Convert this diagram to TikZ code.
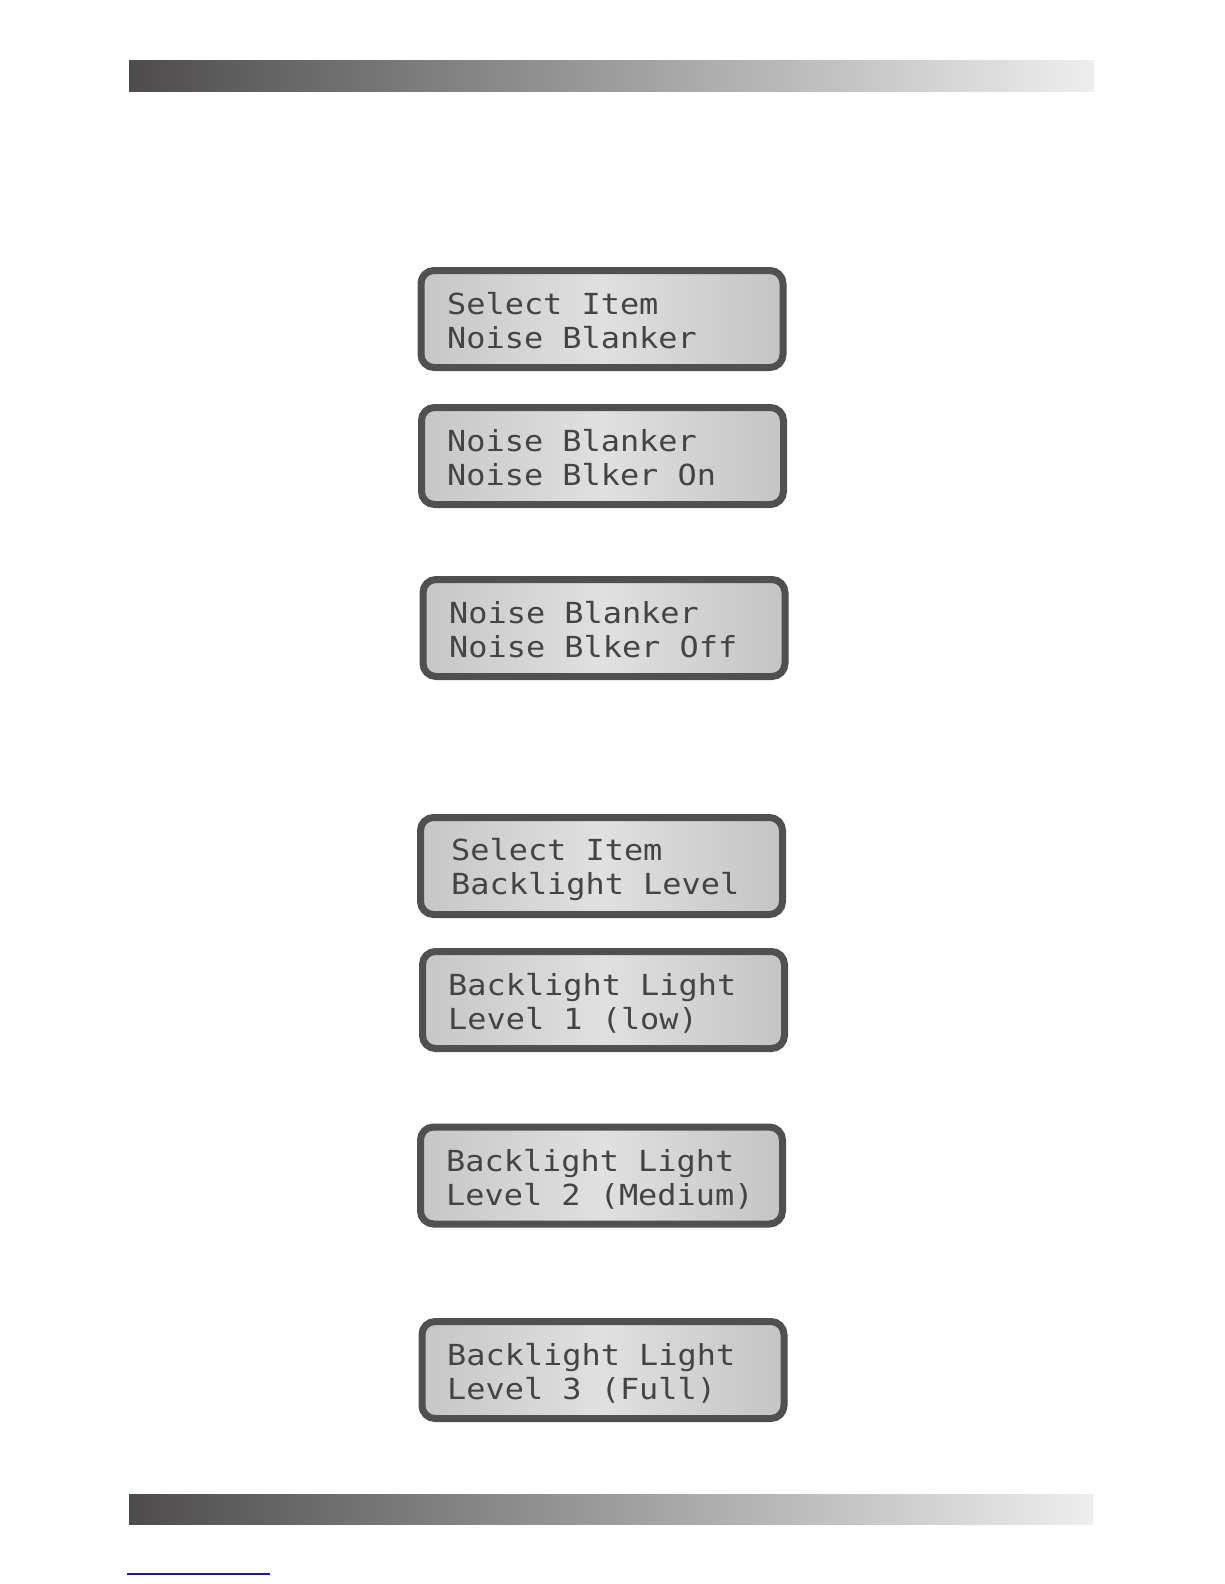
\documentclass[tikz,border=0pt]{standalone}
\usepackage{fontspec}
\newfontfamily\lcdfont[FakeStretch=1.10]{DejaVu Sans Mono}
\definecolor{barDark}{HTML}{4D4B4C}
\definecolor{barLight}{HTML}{EEEEEE}
\definecolor{lcdRim}{HTML}{505050}
\definecolor{lcdLeft}{HTML}{C6C6C6}
\definecolor{lcdRight}{HTML}{C4C4C4}
\definecolor{lcdMid}{HTML}{E0E0E0}
\definecolor{lcdInk}{HTML}{444444}
\definecolor{linkBlue}{HTML}{1C1C8C}
\tikzset{
  lcdbox/.style={rectangle, rounded corners=13pt, draw=lcdRim, line width=7pt,
    minimum width=362pt, minimum height=97pt, inner sep=0pt,
    left color=lcdLeft, right color=lcdRight, middle color=lcdMid},
  lcdline/.style={anchor=base west, inner sep=0pt, text=lcdInk,
    font=\lcdfont\fontsize{29}{29}\selectfont},
  bar/.style={left color=barDark, right color=barLight}
}
\begin{document}
\begin{tikzpicture}[x=1pt,y=-1pt]
\useasboundingbox (0,0) rectangle (1224,1584);
\fill[white] (0,0) rectangle (1224,1584);
% header and footer bars
\shade[bar] (129,61) rectangle (1094,92);
\shade[bar] (129,1494) rectangle (1093,1524);
\coordinate (linkA) at (127,1574);
\coordinate (linkB) at (270,1574);
\draw[linkBlue, line width=2pt] (linkA) -- (linkB);
% LCD screens
\node[lcdbox] (s1) at (602,319) {};
\node[lcdline] (s1a) at (447,314) {Select Item};
\node[lcdline] (s1b) at (447,348) {Noise Blanker};

\node[lcdbox] (s2) at (602.5,456) {};
\node[lcdline] (s2a) at (447,451) {Noise Blanker};
\node[lcdline] (s2b) at (447,485) {Noise Blker On};

\node[lcdbox] (s3) at (604,628) {};
\node[lcdline] (s3a) at (449,623) {Noise Blanker};
\node[lcdline] (s3b) at (449,657) {Noise Blker Off};

\node[lcdbox] (s4) at (601.5,866) {};
\node[lcdline] (s4a) at (451,860) {Select Item};
\node[lcdline] (s4b) at (451,894) {Backlight Level};

\node[lcdbox] (s5) at (603.5,1000) {};
\node[lcdline] (s5a) at (448,995) {Backlight Light};
\node[lcdline] (s5b) at (448,1029) {Level 1 (low)};

\node[lcdbox] (s6) at (601.5,1175.5) {};
\node[lcdline] (s6a) at (446,1171) {Backlight Light};
\node[lcdline] (s6b) at (446,1205) {Level 2 (Medium)};

\node[lcdbox] (s7) at (603,1370) {};
\node[lcdline] (s7a) at (447,1365) {Backlight Light};
\node[lcdline] (s7b) at (447,1399) {Level 3 (Full)};
\end{tikzpicture}
\end{document}
